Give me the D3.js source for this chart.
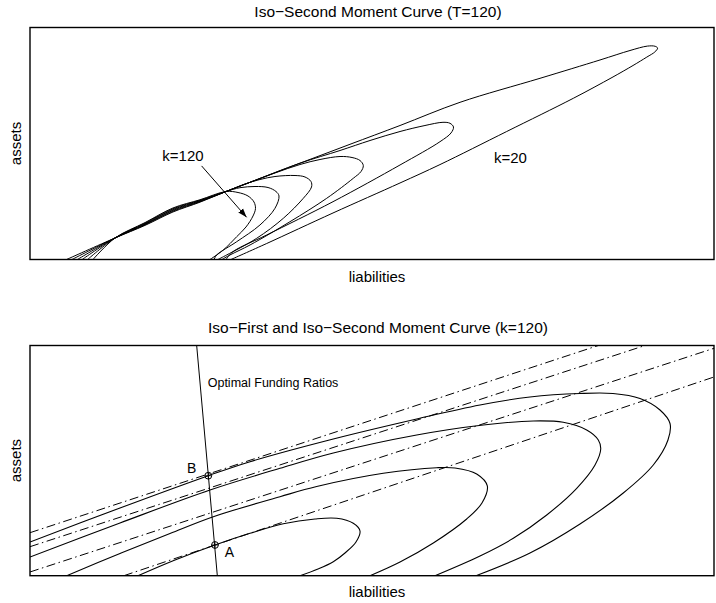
<!DOCTYPE html>
<html>
<head>
<meta charset="utf-8">
<script src="https://cdn.jsdelivr.net/npm/d3@7"></script>
<style>
  body{margin:0;background:#fff}
  text{font-family:"Liberation Sans",Arial,Helvetica,sans-serif;fill:#000}
</style>
</head>
<body>
<svg id="chart" width="716" height="603"></svg>
<script>
// ---- top panel: iso-second moment loops for k = 120 ... 20, points are [liabilities, assets]
const loopK120 = [[10.5,0],[14.17,5.38],[19.17,9.23],[23.83,12.88],[28.33,14.93],[32.67,17.0],[34.67,16.75],[36.33,15.88],[37.33,14.38],[37.58,12.75],[37.17,10.88],[36.0,8.13],[34.45,5.7],[32.22,2.38],[30.0,0]];
const loopK100 = [[9.6,0],[14.17,5.38],[19.17,9.09],[23.83,12.68],[28.33,14.81],[32.67,17.0],[35.0,17.95],[37.5,18.25],[39.67,18.0],[41.0,17.0],[41.5,15.88],[40.83,12.8],[38.33,8.63],[34.45,4.45],[31.12,1.13],[30.67,0]];
const loopK80 = [[8.7,0],[14.17,5.38],[19.17,8.95],[23.83,12.48],[28.33,14.69],[32.67,17.0],[35.83,18.88],[38.33,20.0],[40.83,20.75],[44.17,21.0],[45.83,20.63],[46.83,19.5],[46.92,18.13],[45.55,15.3],[42.22,10.3],[37.78,5.3],[32.78,1.13],[31.33,0]];
const loopK60 = [[7.9,0],[14.17,5.38],[19.17,8.81],[23.83,12.28],[28.33,14.57],[32.67,17.0],[36.67,19.3],[40.83,21.63],[45.0,23.75],[48.33,25.0],[51.67,25.75],[53.67,25.5],[55.0,24.75],[55.55,23.5],[55.17,22.0],[53.88,20.3],[49.45,15.3],[43.33,9.45],[36.67,3.63],[33.33,1.13],[32.0,0]];
const loopK40 = [[7.0,0],[14.17,5.38],[19.17,8.67],[23.83,12.08],[28.33,14.45],[32.67,17.0],[36.67,19.3],[45.0,24.08],[51.67,27.25],[56.67,29.75],[61.67,32.0],[65.83,33.5],[68.83,34.3],[70.0,34.05],[70.58,33.13],[70.17,31.63],[68.33,29.45],[61.67,23.63],[50.5,14.45],[39.45,6.13],[33.83,1.95],[32.67,0]];
const loopK20 = [[6.1,0],[14.17,5.38],[19.17,8.53],[23.83,11.88],[28.33,14.33],[32.67,17.0],[36.67,19.3],[45.0,24.08],[53.33,28.8],[61.67,33.5],[71.67,39.3],[85.0,45.3],[95.0,49.88],[100.0,52.25],[102.9,53.35],[104.2,53.3],[104.6,52.85],[104.15,51.9],[102.8,50.6],[100.5,48.5],[97.0,45.5],[90.55,40.3],[79.45,32.0],[68.33,23.73],[61.67,19.13],[50.5,11.63],[39.45,4.0],[33.5,0]];
const topLoops = [loopK120, loopK100, loopK80, loopK60, loopK40, loopK20];
const topLabels = [{text:"k=120", at:[25.5,25.88]}, {text:"k=20", at:[80.08,25.38]}];
const topArrow = [[28.6,23.4],[36.1,10.55]];

// ---- bottom panel: iso-second moment curves (solid) and iso-first moment lines (dash-dot)
const curveS1 = [[0,8.43],[15.0,16.93],[29.72,25.0],[36.67,28.5],[50.55,34.18],[64.45,39.18],[75.0,42.68],[83.33,44.68],[91.67,45.55],[97.17,45.55],[101.67,44.3],[105.0,41.43],[106.67,38.05],[106.33,33.93],[103.88,27.68],[98.88,20.68],[91.67,12.93],[83.33,5.68],[74.33,0]];
const curveS2 = [[0,4.68],[15.0,13.18],[30.0,21.43],[41.67,26.85],[50.55,30.68],[64.45,35.18],[75.55,37.68],[83.88,38.68],[88.88,38.35],[92.78,36.43],[94.72,33.93],[95.12,31.68],[94.17,27.68],[91.12,21.85],[86.12,15.18],[80.55,9.35],[75.0,4.93],[67.5,0]];
const curveS3 = [[6.12,0],[15.0,5.55],[23.33,10.55],[30.55,14.75],[41.67,19.75],[47.78,22.3],[58.88,25.6],[67.78,27.0],[70.83,26.93],[74.45,25.43],[76.22,22.43],[75.33,18.18],[72.78,14.18],[67.22,8.18],[61.67,3.43],[56.67,0]];
const curveS4 = [[18.0,0],[24.17,3.93],[30.83,7.68],[36.67,10.6],[42.22,12.98],[47.5,14.18],[51.12,14.35],[53.88,13.1],[55.0,11.18],[54.33,8.43],[52.5,5.68],[50.55,3.5],[48.0,1.68],[45.0,0]];
const secondMoment = [curveS1, curveS2, curveS3, curveS4];
const firstMoment = [
  [[0,10.75],[94.72,57.55]],
  [[0,7.25],[102.5,57.55]],
  [[0,0.93],[114,56.85]],
  [[15.65,0],[114,49.68]]
];
const fundingLine = [[27.78,57.55],[31.22,0]];
const optimalPts = [{name:"B", at:[29.72,25.0], label:[26.95,26.85]}, {name:"A", at:[30.83,7.68], label:[33.22,5.85]}];
const fundingLabel = {text:"Optimal Funding Ratios", at:[29.62,47.18]};

const svg = d3.select("#chart");
const x = d3.scaleLinear().domain([0,114]).range([30,714]);
const yTop = d3.scaleLinear().domain([0,58]).range([259.5,27.5]);
const yBot = d3.scaleLinear().domain([0,57.55]).range([575.7,345.5]);

svg.append("defs").append("marker")
  .attr("id","arrowhead")
  .attr("viewBox","0 0 10 10")
  .attr("refX",10).attr("refY",5)
  .attr("markerWidth",9).attr("markerHeight",9)
  .attr("markerUnits","userSpaceOnUse")
  .attr("orient","auto")
  .append("path").attr("d","M0,1.5L10,5L0,8.5Z").attr("fill","#000");

function panel(y, clipId, title, titleY, labelY){
  const g = svg.append("g");
  g.append("clipPath").attr("id",clipId)
    .append("rect")
    .attr("x",x(0)).attr("y",y(y.domain()[1]))
    .attr("width",x(114)-x(0)).attr("height",y(0)-y(y.domain()[1]));
  const plot = g.append("g").attr("clip-path","url(#"+clipId+")");
  g.append("rect")
    .attr("x",x(0)).attr("y",y(y.domain()[1]))
    .attr("width",x(114)-x(0)).attr("height",y(0)-y(y.domain()[1]))
    .attr("fill","none").attr("stroke","#000").attr("stroke-width",1.4);
  g.append("text").attr("x",378).attr("y",titleY)
    .attr("text-anchor","middle").style("font-size","15.5px").text(title);
  g.append("text").attr("x",377).attr("y",labelY)
    .attr("text-anchor","middle").style("font-size","15px").text("liabilities");
  const midY = (y(0)+y(y.domain()[1]))/2;
  g.append("text").attr("transform","translate(21,"+midY+") rotate(-90)")
    .attr("text-anchor","middle").style("font-size","15px").text("assets");
  return plot;
}

// top panel
const p1 = panel(yTop, "clipTop", "Iso\u2212Second Moment Curve (T=120)", 17, 281.5);
const lineTop = d3.line().x(d=>x(d[0])).y(d=>yTop(d[1])).curve(d3.curveCatmullRom.alpha(0.5));
p1.selectAll(".loop").data(topLoops).enter().append("path")
  .attr("class","loop")
  .attr("d",lineTop)
  .attr("fill","none").attr("stroke","#000").attr("stroke-width",1);
p1.selectAll(".klab").data(topLabels).enter().append("text")
  .attr("class","klab")
  .attr("x",d=>x(d.at[0])).attr("y",d=>yTop(d.at[1]))
  .attr("dy","0.35em").attr("text-anchor","middle")
  .style("font-size","15px").text(d=>d.text);
p1.append("line")
  .attr("x1",x(topArrow[0][0])).attr("y1",yTop(topArrow[0][1]))
  .attr("x2",x(topArrow[1][0])).attr("y2",yTop(topArrow[1][1]))
  .attr("stroke","#000").attr("stroke-width",1)
  .attr("marker-end","url(#arrowhead)");

// bottom panel
const p2 = panel(yBot, "clipBot", "Iso\u2212First and Iso\u2212Second Moment Curve (k=120)", 333, 596.5);
const lineBot = d3.line().x(d=>x(d[0])).y(d=>yBot(d[1]));
p2.selectAll(".fm").data(firstMoment).enter().append("path")
  .attr("class","fm")
  .attr("d",lineBot)
  .attr("fill","none").attr("stroke","#000").attr("stroke-width",1)
  .attr("stroke-dasharray","9,3.5,1.5,3.5");
p2.selectAll(".sm").data(secondMoment).enter().append("path")
  .attr("class","sm")
  .attr("d",lineBot.curve(d3.curveCatmullRom.alpha(0.5)))
  .attr("fill","none").attr("stroke","#000").attr("stroke-width",1.1);
p2.append("path")
  .attr("d",d3.line().x(d=>x(d[0])).y(d=>yBot(d[1]))(fundingLine))
  .attr("fill","none").attr("stroke","#000").attr("stroke-width",1);
p2.append("text")
  .attr("x",x(fundingLabel.at[0])).attr("y",yBot(fundingLabel.at[1]))
  .style("font-size","12.5px").text(fundingLabel.text);

const pts = p2.selectAll(".opt").data(optimalPts).enter().append("g").attr("class","opt");
pts.append("circle")
  .attr("cx",d=>x(d.at[0])).attr("cy",d=>yBot(d.at[1])).attr("r",3.4)
  .attr("fill","none").attr("stroke","#000").attr("stroke-width",1);
pts.append("line")
  .attr("x1",d=>x(d.at[0])-3.4).attr("x2",d=>x(d.at[0])+3.4)
  .attr("y1",d=>yBot(d.at[1])).attr("y2",d=>yBot(d.at[1]))
  .attr("stroke","#000").attr("stroke-width",0.8);
pts.append("line")
  .attr("x1",d=>x(d.at[0])).attr("x2",d=>x(d.at[0]))
  .attr("y1",d=>yBot(d.at[1])-3.4).attr("y2",d=>yBot(d.at[1])+3.4)
  .attr("stroke","#000").attr("stroke-width",0.8);
pts.append("text")
  .attr("x",d=>x(d.label[0])).attr("y",d=>yBot(d.label[1]))
  .attr("dy","0.35em").attr("text-anchor","middle")
  .style("font-size","14px").text(d=>d.name);
</script>
</body>
</html>
